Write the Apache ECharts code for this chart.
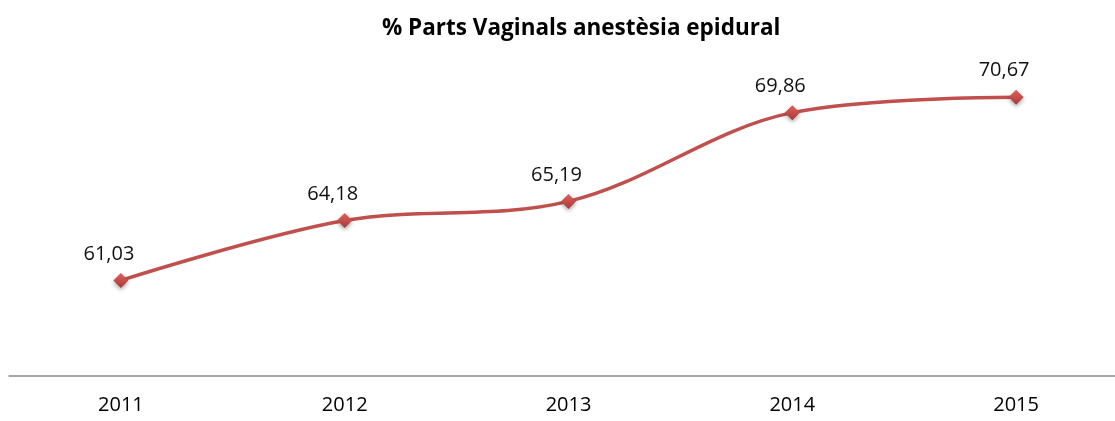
<!DOCTYPE html>
<html>
<head>
<meta charset="utf-8">
<script src="https://cdn.jsdelivr.net/npm/echarts@6/dist/echarts.min.js"></script>
<style>
  html, body { margin: 0; padding: 0; background: #fff; }
  .drawing { width: 1115px; height: 421px; }
</style>
</head>
<body>
<div class="drawing"></div>
<script>
// dades
var years = ["2011", "2012", "2013", "2014", "2015"];
var values = [61.03, 64.18, 65.19, 69.86, 70.67];

var myChart = echarts.init(document.querySelector(".drawing"));
myChart.setOption({
  animation: false,
  title: {
    text: "% Parts Vaginals anestèsia epidural",
    left: 377,
    top: 12,
    textStyle: {
      fontFamily: "Open Sans",
      fontWeight: "bold",
      fontSize: 22.5,
      color: "#000",
    },
  },
  grid: {
    left: 9,
    width: 1119,
    top: 72,
    bottom: 45,
    outerBoundsMode: "none",
  },
  xAxis: {
    type: "category",
    data: years,
    boundaryGap: true,
    axisTick: { show: false },
    axisLine: {
      lineStyle: { color: "#8c8c8c", width: 1.5 },
    },
    axisLabel: {
      margin: 19,
      fontFamily: "Open Sans",
      fontSize: 20,
      color: "#000",
    },
  },
  yAxis: {
    type: "value",
    min: 56,
    max: 72,
    show: false,
    splitLine: { show: false },
  },
  series: [
    {
      type: "line",
      data: values,
      smooth: 0.35,
      symbol: "diamond",
      symbolSize: 15,
      lineStyle: { color: "#c0504d", width: 3.5 },
      itemStyle: {
        color: new echarts.graphic.LinearGradient(0, 0, 0, 1, [
          { offset: 0, color: "#e0605c" },
          { offset: 1, color: "#a83a37" },
        ]),
        shadowColor: "rgba(0,0,0,0.35)",
        shadowBlur: 4,
        shadowOffsetY: 2,
      },
      label: {
        show: true,
        position: "top",
        offset: [-12, -4],
        fontFamily: "Open Sans",
        fontSize: 20,
        color: "#111",
        formatter: function (p) {
          return p.value.toFixed(2).replace(".", ",");
        },
      },
    },
  ],
});
</script>
</body>
</html>
